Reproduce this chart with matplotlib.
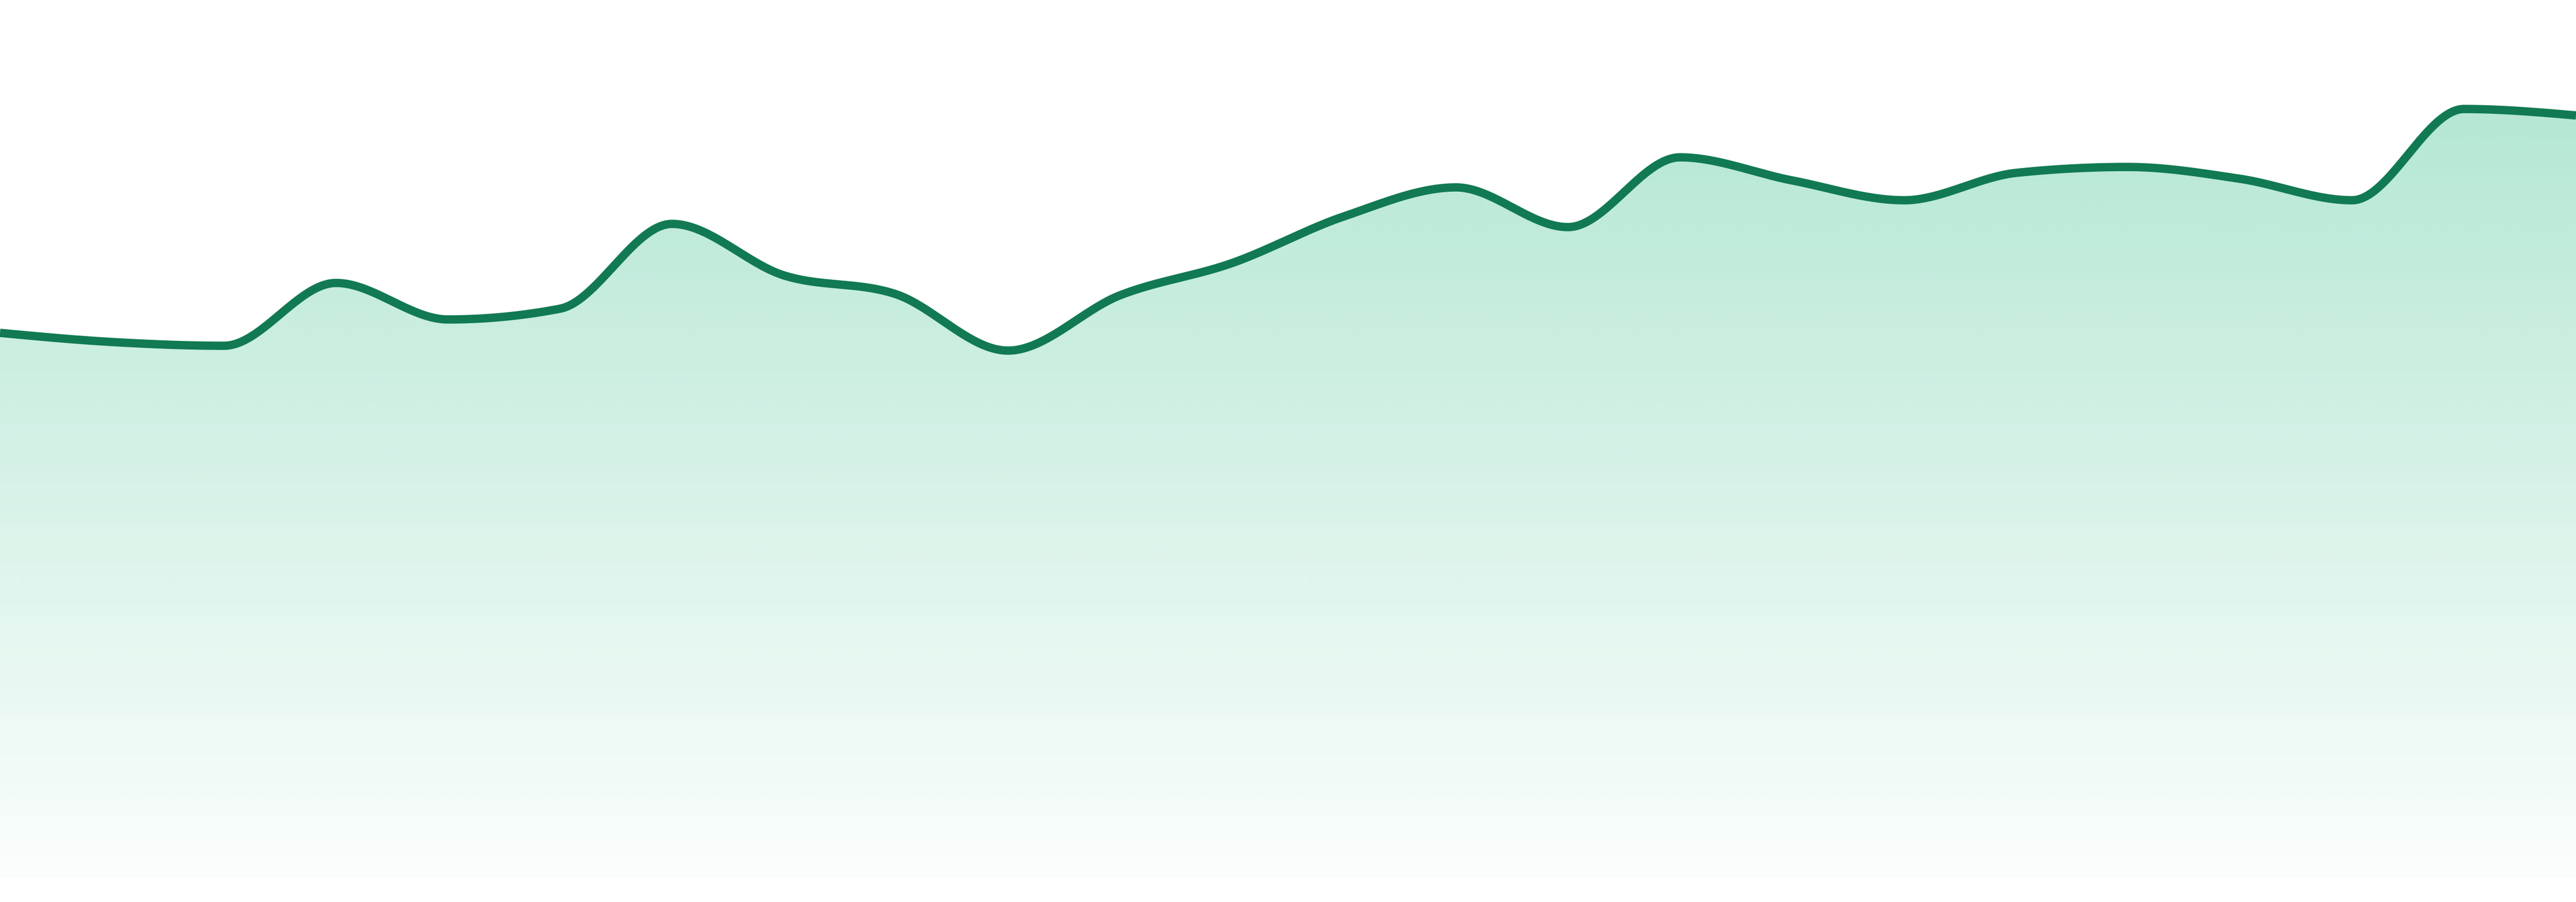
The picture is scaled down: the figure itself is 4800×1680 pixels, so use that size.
import numpy as np
import matplotlib
matplotlib.use("Agg")
import matplotlib.pyplot as plt

# values, one per evenly spaced step
steps = list(range(24))
values = [101.4, 99.7, 99.0, 110.7, 103.9, 105.9, 121.7, 112.1, 108.6, 98.1,
          108.4, 114.4, 123.1, 128.5, 121.1, 134.1, 129.8, 126.1, 131.2, 132.3,
          130.1, 126.1, 143.1, 141.9]

line_color = "#117a52"
fill_rgb = (22 / 255, 180 / 255, 120 / 255)


def monotone(x, y, n=40):
    # monotone cubic (same idea as d3 curveMonotoneX)
    x = np.asarray(x, float)
    y = np.asarray(y, float)
    h = np.diff(x)
    s = np.diff(y) / h
    t = np.zeros_like(y)
    for i in range(1, len(y) - 1):
        p = (s[i - 1] * h[i] + s[i] * h[i - 1]) / (h[i - 1] + h[i])
        t[i] = (np.sign(s[i - 1]) + np.sign(s[i])) * min(abs(s[i - 1]), abs(s[i]), 0.5 * abs(p))
    t[0] = (3 * s[0] - t[1]) / 2
    t[-1] = (3 * s[-1] - t[-2]) / 2
    xs, ys = [], []
    for i in range(len(x) - 1):
        u = np.linspace(0, 1, n, endpoint=(i == len(x) - 2))
        h00 = 2 * u**3 - 3 * u**2 + 1
        h10 = u**3 - 2 * u**2 + u
        h01 = -2 * u**3 + 3 * u**2
        h11 = u**3 - u**2
        xs.append(x[i] + u * h[i])
        ys.append(h00 * y[i] + h10 * h[i] * t[i] + h01 * y[i + 1] + h11 * h[i] * t[i + 1])
    return np.concatenate(xs), np.concatenate(ys)


fig = plt.figure(figsize=(48, 16.8), dpi=100)
ax = fig.add_axes([0, 0, 1, 1])
ymin, ymax = -4.6, 163.4
ax.set_xlim(steps[0], steps[-1])
ax.set_ylim(ymin, ymax)
ax.axis("off")

xs, ys = monotone(steps, values)

# gradient area under the line
poly = ax.fill_between(xs, ys, 0, color="none", lw=0)
alpha = np.linspace(0.36, 0.02, 400)
grad = np.zeros((400, 2, 4))
grad[:, :, 0] = fill_rgb[0]
grad[:, :, 1] = fill_rgb[1]
grad[:, :, 2] = fill_rgb[2]
grad[:, :, 3] = alpha[:, None]
im = ax.imshow(grad, extent=[steps[0], steps[-1], 0, ymax], aspect="auto",
               origin="upper", interpolation="bilinear", zorder=1)
im.set_clip_path(poly.get_paths()[0], transform=ax.transData)

ax.plot(xs, ys, color=line_color, lw=11.2, solid_capstyle="butt", zorder=2)

fig.savefig("out.png", dpi=100, facecolor="white")
